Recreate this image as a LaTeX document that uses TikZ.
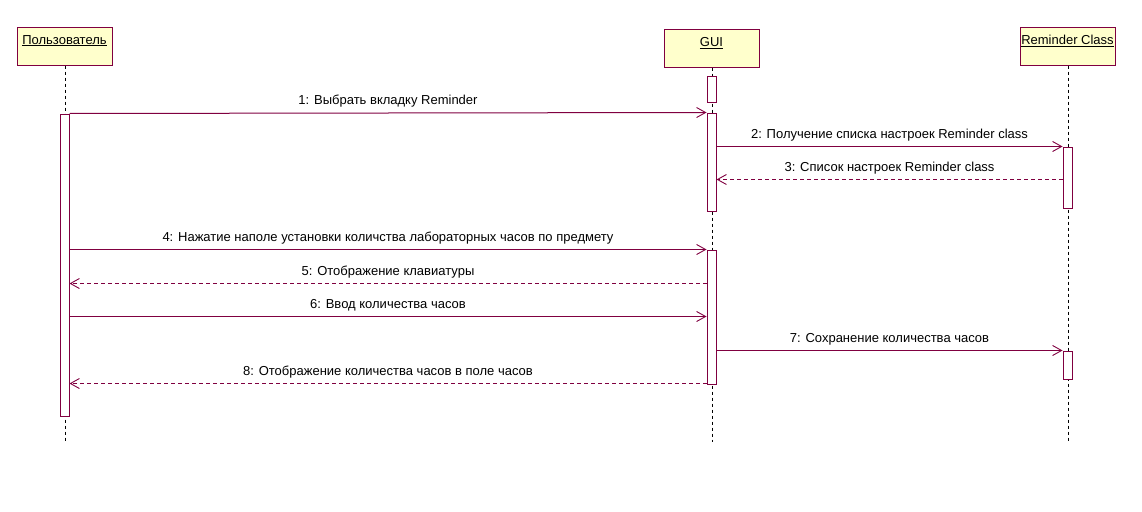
\documentclass[tikz,border=0pt]{standalone}
\usepackage{fontspec}
\setmainfont{Liberation Sans}
\usetikzlibrary{arrows.meta}
\definecolor{umlline}{RGB}{128,0,64}
\definecolor{umlfill}{RGB}{255,255,204}
\begin{document}
\begin{tikzpicture}[x=1pt,y=-1pt,
  font=\fontsize{13}{15}\selectfont,
  headbox/.style={draw=umlline,fill=umlfill,line width=1pt,minimum width=95pt,minimum height=37pt,inner sep=0pt},
  headtext/.style={anchor=north,inner sep=0pt,yshift=-7.5pt},
  lifeline/.style={draw=black,line width=0.9pt,dash pattern=on 3pt off 3pt},
  actbar/.style={draw=umlline,fill=white,line width=1pt,minimum width=9pt,inner sep=0pt},
  msg/.style={draw=umlline,line width=1pt,-{Straight Barb[length=9pt,width=10pt,line width=0.9pt]}},
  ret/.style={msg,dash pattern=on 4pt off 3pt},
  mlabel/.style={inner sep=0pt,anchor=south,yshift=5pt}]
\useasboundingbox (0,0) rectangle (1142,511);
% heads
\node[headbox] (u) at (64.5,46.5) {};
\node[headtext] (ut) at (u.north) {\underline{Пользователь}};
\node[headbox] (g) at (711.5,48.5) {};
\node[headtext] (gt) at (g.north) {\underline{GUI}};
\node[headbox] (r) at (1067.5,46.5) {};
\node[headtext] (rt) at (r.north) {\underline{Reminder Class}};
% lifeline ends
\coordinate (uend) at (65,442);
\coordinate (gend) at (712,442);
\coordinate (rend) at (1068,442);
\draw[lifeline] (u.south -| uend) -- (uend);
\draw[lifeline] (g.south -| gend) -- (gend);
\draw[lifeline] (r.south -| rend) -- (rend);
% activation bars
\node[actbar,minimum height=302pt] (ua) at (64.5,265) {};
\node[actbar,minimum height=26pt] (ga1) at (711.5,89) {};
\node[actbar,minimum height=98pt] (ga2) at (711.5,162) {};
\node[actbar,minimum height=134pt] (ga3) at (711.5,317) {};
\node[actbar,minimum height=61pt] (ra1) at (1067.5,177.5) {};
\node[actbar,minimum height=28pt] (ra2) at (1067.5,365) {};
% message anchor coordinates
\coordinate (m1a) at (ua.north east);
\coordinate (m1b) at (ga2.north west);
\coordinate (m2a) at (ga2.east |- ra1.north);
\coordinate (m2b) at (ra1.north west);
\coordinate (m3a) at ([yshift=-33pt]ra1.north west);
\coordinate (m3b) at (ga2.east |- m3a);
\coordinate (m4a) at (ua.east |- ga3.north);
\coordinate (m4b) at (ga3.north west);
\coordinate (m5a) at ([yshift=-34pt]ga3.north west);
\coordinate (m5b) at (ua.east |- m5a);
\coordinate (m6a) at ([yshift=-67pt]ua.east |- ga3.north);
\coordinate (m6b) at (ga3.west |- m6a);
\coordinate (m7a) at (ga3.east |- ra2.north);
\coordinate (m7b) at (ra2.north west);
\coordinate (m8a) at ([yshift=1pt]ga3.south west);
\coordinate (m8b) at (ua.east |- m8a);
% messages
\draw[msg] (m1a) -- node[mlabel] (l1) {1: Выбрать вкладку Reminder} (m1b);
\draw[msg] (m2a) -- node[mlabel] (l2) {2: Получение списка настроек Reminder class} (m2b);
\draw[ret] (m3a) -- node[mlabel] (l3) {3: Список настроек Reminder class} (m3b);
\draw[msg] (m4a) -- node[mlabel] (l4) {4: Нажатие наполе установки количства лабораторных часов по предмету} (m4b);
\draw[ret] (m5a) -- node[mlabel] (l5) {5: Отображение клавиатуры} (m5b);
\draw[msg] (m6a) -- node[mlabel] (l6) {6: Ввод количества часов} (m6b);
\draw[msg] (m7a) -- node[mlabel] (l7) {7: Сохранение количества часов} (m7b);
\draw[ret] (m8a) -- node[mlabel] (l8) {8: Отображение количества часов в поле часов} (m8b);
\end{tikzpicture}
\end{document}
